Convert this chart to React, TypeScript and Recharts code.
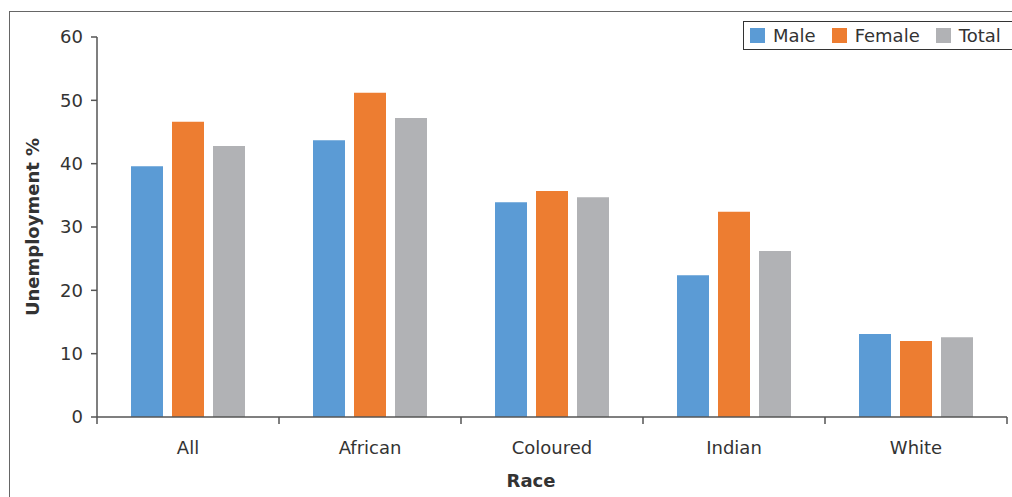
import { BarChart, Bar, XAxis, YAxis, Legend, Label } from 'recharts';

const races = ['All', 'African', 'Coloured', 'Indian', 'White'];
const male = [39.6, 43.7, 33.9, 22.4, 13.1];
const female = [46.6, 51.2, 35.7, 32.4, 12.0];
const total = [42.8, 47.2, 34.7, 26.2, 12.6];
const yTicks = [0, 10, 20, 30, 40, 50, 60];

const seriesList = [
  { key: 'male', name: 'Male', color: '#5B9BD5' },
  { key: 'female', name: 'Female', color: '#ED7D31' },
  { key: 'total', name: 'Total', color: '#B1B2B5' },
];

const data = races.map((race, i) => ({ race, male: male[i], female: female[i], total: total[i] }));

const W = 1012;
const H = 497;
const LEFT = 97;
const RIGHT = 5;
const BAND = (W - LEFT - RIGHT) / races.length;
const AXIS = '#555';
const TEXT = '#333';
const FONT = '"DejaVu Sans", sans-serif';

// category label at band centre, tick marks on the band edges
function RaceTick(props: any) {
  const { x, y, payload, index } = props;
  const last = index === races.length - 1;
  return (
    <g>
      <line x1={x - BAND / 2} x2={x - BAND / 2} y1={y} y2={y + 7} stroke={AXIS} strokeWidth={1.5} />
      {last && <line x1={x + BAND / 2} x2={x + BAND / 2} y1={y} y2={y + 7} stroke={AXIS} strokeWidth={1.5} />}
      <text x={x} y={y + 37} textAnchor="middle" fill={TEXT} fontSize={18} fontFamily={FONT}>
        {payload.value}
      </text>
    </g>
  );
}

function LegendBox() {
  return (
    <div
      style={{
        display: 'flex',
        alignItems: 'center',
        border: '1.5px solid #333',
        height: 29,
        width: 300,
        paddingLeft: 6,
        boxSizing: 'border-box',
        background: '#fff',
        fontFamily: FONT,
        fontSize: 18,
        color: TEXT,
      }}
    >
      {seriesList.map((s) => (
        <span key={s.key} style={{ display: 'flex', alignItems: 'center', marginRight: 16 }}>
          <span style={{ width: 15, height: 15, background: s.color, display: 'inline-block', marginRight: 8 }} />
          {s.name}
        </span>
      ))}
    </div>
  );
}

export default function App() {
  return (
    <div style={{ position: 'absolute', left: 0, top: 0, width: W, height: H, overflow: 'hidden', background: '#fff' }}>
      <div
        style={{
          position: 'absolute',
          left: 9,
          top: 11,
          width: 1100,
          height: 600,
          border: '1.5px solid #666',
        }}
      />
      <div style={{ position: 'absolute', left: 0, top: 0 }}>
        <BarChart
          width={W}
          height={H}
          data={data}
          margin={{ top: 37, right: RIGHT, left: 0, bottom: 0 }}
          barSize={32}
          barGap={9}
        >
          <XAxis
            dataKey="race"
            height={80}
            tickSize={0}
            tickMargin={0}
            tickLine={false}
            axisLine={{ stroke: AXIS, strokeWidth: 1.5 }}
            tick={<RaceTick />}
            interval={0}
          >
            <Label
              value="Race"
              position="insideBottom"
              offset={10}
              dx={-21}
              style={{ fontFamily: FONT, fontSize: 18, fontWeight: 'bold', fill: TEXT }}
            />
          </XAxis>
          <YAxis
            width={LEFT}
            domain={[0, 60]}
            ticks={yTicks}
            interval={0}
            tickSize={6}
            tickMargin={8}
            axisLine={{ stroke: AXIS, strokeWidth: 1.5 }}
            tickLine={{ stroke: AXIS, strokeWidth: 1.5 }}
            tick={{ fill: TEXT, fontSize: 18, fontFamily: FONT }}
          >
            <Label
              value="Unemployment %"
              angle={-90}
              position="insideLeft"
              offset={33}
              style={{ textAnchor: 'middle', fontFamily: FONT, fontSize: 18, fontWeight: 'bold', fill: TEXT }}
            />
          </YAxis>
          <Legend
            layout="horizontal"
            verticalAlign="middle"
            align="center"
            wrapperStyle={{ top: 21, left: 743, width: 300 }}
            content={<LegendBox />}
          />
          {seriesList.map((s) => (
            <Bar key={s.key} dataKey={s.key} name={s.name} fill={s.color} isAnimationActive={false} />
          ))}
        </BarChart>
      </div>
    </div>
  );
}
